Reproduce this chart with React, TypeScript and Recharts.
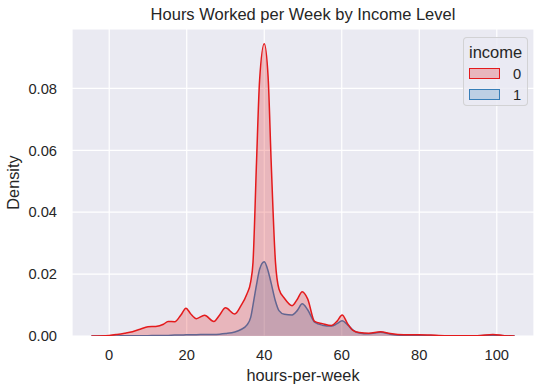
import { ComposedChart, Area, XAxis, YAxis, CartesianGrid, Legend, Label } from "recharts";

// KDE of hours-per-week
const hours = [
  -4.6, 0, 2, 4, 6, 8, 10, 12, 14, 15.2, 16.9, 18.5, 19.8, 21, 22.5, 24.6, 27, 28.5, 30, 32.4,
  34, 35.5, 36.5, 37.1, 38, 38.8, 40, 41, 41.8, 42.9, 43.8, 45.2, 47.2, 48.5, 49.8, 51.2, 53, 55,
  57.3, 58.8, 60.1, 61.5, 62.8, 64.5, 67, 70, 72.5, 76, 80, 85, 90, 95, 99, 102, 104.6,
];
const income0 = [
  0, 0.0002, 0.0005, 0.0009, 0.0014, 0.0022, 0.003, 0.0031, 0.0038, 0.0047, 0.0046, 0.0068, 0.009,
  0.0072, 0.0056, 0.0067, 0.0047, 0.0068, 0.0091, 0.0071, 0.0098, 0.0135, 0.0175, 0.0238, 0.0559,
  0.0826, 0.0944, 0.0837, 0.0559, 0.0238, 0.0152, 0.0122, 0.0098, 0.0118, 0.0143, 0.012, 0.0047,
  0.004, 0.0034, 0.0048, 0.0068, 0.004, 0.0019, 0.0011, 0.0009, 0.0014, 0.0008, 0.0004, 0.0004,
  0.0002, 0.0001, 0.0001, 0.0005, 0.0001, 0,
];
const income1 = [
  0, 0, 0, 0.0001, 0.0001, 0.0001, 0.0001, 0.0002, 0.0002, 0.0002, 0.0003, 0.0003, 0.0004, 0.0004,
  0.0004, 0.0005, 0.0005, 0.0006, 0.0008, 0.0013, 0.0021, 0.0035, 0.006, 0.01, 0.0165, 0.0216,
  0.024, 0.021, 0.017, 0.0112, 0.0082, 0.007, 0.0068, 0.0082, 0.0104, 0.0085, 0.0045, 0.0035,
  0.0032, 0.004, 0.0049, 0.0036, 0.002, 0.001, 0.0007, 0.0012, 0.0006, 0.0002, 0.0002, 0.0001,
  0.0001, 0.0001, 0.0002, 0.0001, 0,
];
const xTicks = [0, 20, 40, 60, 80, 100];
const yTicks = [0, 0.02, 0.04, 0.06, 0.08];

const RED = "#e41a1c";
const BLUE = "#377eb8";
const FONT = "'Liberation Sans', Arial, sans-serif";
const TEXT = "#262626";

const data = hours.map((h, i) => ({ hours: h, income0: income0[i], income1: income1[i] }));

function LegendBox({ payload }: any) {
  const items = [...(payload || [])].sort((a, b) => String(a.value).localeCompare(String(b.value)));
  return (
    <div
      style={{
        width: 65,
        height: 69,
        boxSizing: "border-box",
        background: "rgba(234,234,242,0.8)",
        border: "1px solid rgba(204,204,204,0.8)",
        borderRadius: 4,
        fontFamily: FONT,
        color: TEXT,
        padding: "3px 0 0 5px",
      }}
    >
      <div style={{ fontSize: 16.5, lineHeight: "22px" }}>income</div>
      {items.map((it: any) => (
        <div key={it.value} style={{ display: "flex", alignItems: "center", height: 21 }}>
          <span
            style={{
              width: 31,
              height: 11,
              boxSizing: "border-box",
              border: `1.5px solid ${it.color}`,
              background: it.color === RED ? "rgba(228,26,28,0.25)" : "rgba(55,126,184,0.25)",
              display: "inline-block",
            }}
          />
          <span style={{ fontSize: 14.7, marginLeft: 13 }}>{it.value}</span>
        </div>
      ))}
    </div>
  );
}

export default function App() {
  return (
    <div style={{ position: "absolute", left: 0, top: 0, background: "#fff" }}>
      <ComposedChart
        width={542}
        height={391}
        data={data}
        margin={{ top: 29, right: 8, bottom: 0, left: 0 }}
        style={{ fontFamily: FONT }}
      >
        <text x={303} y={20} textAnchor="middle" fontSize={16.5} fill={TEXT} fontFamily={FONT}>
          Hours Worked per Week by Income Level
        </text>
        <CartesianGrid fill="#EAEAF2" stroke="#fff" strokeWidth={1.2} />
        <XAxis
          dataKey="hours"
          type="number"
          domain={[-9.6, 109.6]}
          ticks={xTicks}
          allowDataOverflow
          height={55}
          axisLine={false}
          tickLine={false}
          tickSize={6}
          tickMargin={8}
          tick={{ fontSize: 14.7, fill: TEXT }}
        >
          <Label
            content={({ viewBox }: any) => (
              <text
                x={viewBox.x + viewBox.width / 2}
                y={380.5}
                textAnchor="middle"
                fontSize={16.3}
                fill={TEXT}
                fontFamily={FONT}
              >
                hours-per-week
              </text>
            )}
          />
        </XAxis>
        <YAxis
          type="number"
          domain={[0, 0.0992]}
          ticks={yTicks}
          allowDataOverflow
          width={72}
          axisLine={false}
          tickLine={false}
          tickSize={6}
          tickMargin={9}
          tickFormatter={(v: number) => v.toFixed(2)}
          tick={{ fontSize: 14.7, fill: TEXT }}
        >
          <Label
            content={({ viewBox }: any) => {
              const cy = viewBox.y + viewBox.height / 2;
              return (
                <text
                  x={19}
                  y={cy}
                  transform={`rotate(-90 19 ${cy})`}
                  textAnchor="middle"
                  fontSize={16.3}
                  fill={TEXT}
                  fontFamily={FONT}
                >
                  Density
                </text>
              );
            }}
          />
        </YAxis>
        <Area
          type="monotone"
          dataKey="income1"
          name="1"
          stroke={BLUE}
          strokeWidth={1.5}
          fill={BLUE}
          fillOpacity={0.25}
          dot={false}
          activeDot={false}
          isAnimationActive={false}
        />
        <Area
          type="monotone"
          dataKey="income0"
          name="0"
          stroke={RED}
          strokeWidth={1.5}
          fill={RED}
          fillOpacity={0.25}
          dot={false}
          activeDot={false}
          isAnimationActive={false}
        />
        <Legend
          layout="vertical"
          align="center"
          verticalAlign="middle"
          content={<LegendBox />}
          wrapperStyle={{ position: "absolute", left: 463, top: 37, width: 65, height: 69 }}
        />
      </ComposedChart>
    </div>
  );
}
